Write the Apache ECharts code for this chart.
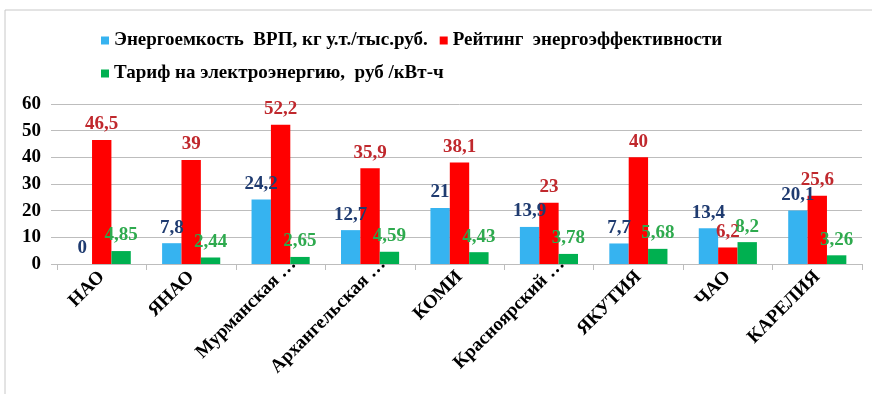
<!DOCTYPE html>
<html>
<head>
<meta charset="utf-8">
<script src="https://cdn.jsdelivr.net/npm/echarts@6/dist/echarts.min.js"></script>
<style>
  html, body { margin: 0; padding: 0; background: #ffffff; }
  #chart { width: 872px; height: 394px; }
</style>
</head>
<body>
<div id="chart"></div>
<script>
// Regions shown along the category axis
const regions = ['НАО', 'ЯНАО', 'Мурманская …', 'Архангельская …', 'КОМИ', 'Красноярский …', 'ЯКУТИЯ', 'ЧАО', 'КАРЕЛИЯ'];

// Series names
const nameIntensity = 'Энергоемкость  ВРП, кг у.т./тыс.руб.';
const nameRating = 'Рейтинг  энергоэффективности';
const nameTariff = 'Тариф на электроэнергию,  руб /кВт-ч';

// Series values
const intensity = [0, 7.8, 24.2, 12.7, 21, 13.9, 7.7, 13.4, 20.1];
const rating = [46.5, 39, 52.2, 35.9, 38.1, 23, 40, 6.2, 25.6];
const tariff = [4.85, 2.44, 2.65, 4.59, 4.43, 3.78, 5.68, 8.2, 3.26];

// Value axis ticks
const yTicks = [0, 10, 20, 30, 40, 50, 60];

const serif = '"Liberation Serif", "Times New Roman", serif';
const commaFmt = p => String(p.value).replace('.', ',');

function barSeries(name, data, color, labelColor) {
  return {
    name: name,
    type: 'bar',
    data: data,
    barGap: '0%',
    barCategoryGap: '35%',
    itemStyle: { color: color },
    label: {
      show: true,
      position: 'top',
      distance: 6,
      formatter: commaFmt,
      color: labelColor,
      fontFamily: serif,
      fontWeight: 'bold',
      fontSize: 19
    }
  };
}

// Shortened names (ending in an ellipsis) sit a little further along their slant
const categoryData = regions.map(r => r.endsWith('…')
  ? { value: r, textStyle: { padding: [0, -18, 0, 0] } }
  : r);

const chart = echarts.init(document.getElementById('chart'), null, { renderer: 'canvas' });

const legendText = { fontFamily: serif, fontWeight: 'bold', fontSize: 19, color: '#000' };

chart.setOption({
  animation: false,
  backgroundColor: '#ffffff',
  graphic: [{
    type: 'rect',
    shape: { x: 5, y: 10, width: 900, height: 400 },
    style: { fill: 'none', stroke: '#c8c8c8', lineWidth: 1 },
    silent: true,
    z: -10
  }],
  legend: [
    {
      data: [nameIntensity, nameRating],
      left: 96, top: 26,
      icon: 'rect', itemWidth: 8, itemHeight: 8, itemGap: 12,
      textStyle: legendText
    },
    {
      data: [nameTariff],
      left: 96, top: 59,
      icon: 'rect', itemWidth: 8, itemHeight: 8,
      textStyle: legendText
    }
  ],
  grid: { left: 57, right: 10, top: 104, bottom: 130, containLabel: false },
  xAxis: {
    type: 'category',
    data: categoryData,
    axisLine: { lineStyle: { color: '#bdbdbd', width: 1 } },
    axisTick: { show: true, length: 6, inside: false, lineStyle: { color: '#bdbdbd' } },
    axisLabel: {
      rotate: 45,
      interval: 0,
      margin: 10,
      color: '#000',
      fontFamily: serif,
      fontWeight: 'bold',
      fontSize: 19
    }
  },
  yAxis: {
    type: 'value',
    min: yTicks[0],
    max: yTicks[yTicks.length - 1],
    interval: yTicks[1] - yTicks[0],
    axisLine: { show: false },
    axisTick: { show: true, length: 6, lineStyle: { color: '#bdbdbd' } },
    splitLine: { lineStyle: { color: '#bdbdbd', width: 1 } },
    axisLabel: {
      margin: 16,
      color: '#000',
      fontFamily: serif,
      fontWeight: 'bold',
      fontSize: 19
    }
  },
  series: [
    barSeries(nameIntensity, intensity, '#36b3f0', '#1f3b70'),
    barSeries(nameRating, rating, '#ff0000', '#c0282d'),
    barSeries(nameTariff, tariff, '#00b050', '#2eaa4e')
  ]
});
</script>
</body>
</html>
